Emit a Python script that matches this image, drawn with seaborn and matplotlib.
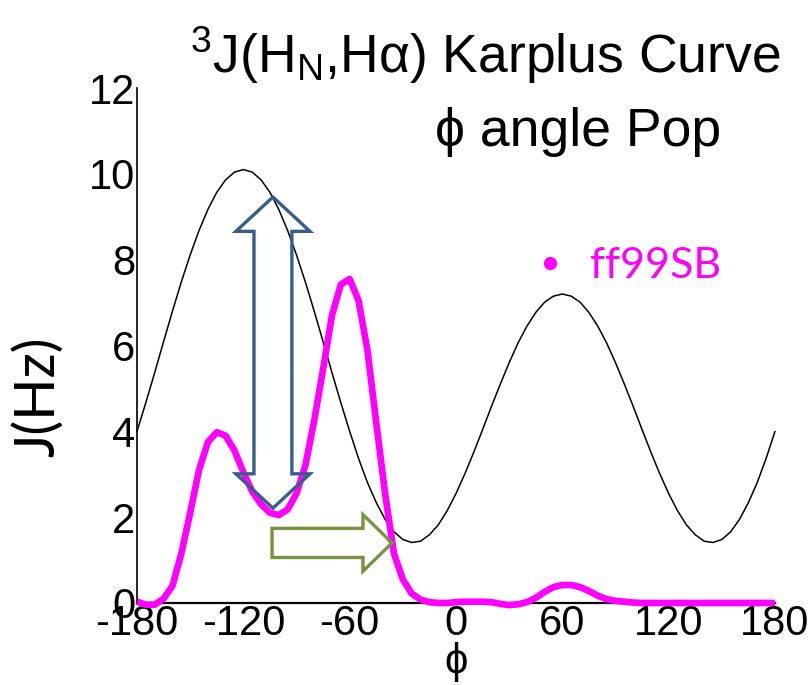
import matplotlib
matplotlib.use("Agg")
import matplotlib.pyplot as plt
import seaborn as sns
import pandas as pd
from matplotlib.patches import Polygon
from matplotlib.lines import Line2D

# ---------------- data ----------------
phi = list(range(-180, 181, 5))

karplus_j = [4.00, 4.67, 5.37, 6.09, 6.80, 7.48, 8.11, 8.68, 9.17, 9.57,
             9.86, 10.04, 10.10, 10.04, 9.86, 9.57, 9.17, 8.68, 8.11, 7.48,
             6.80, 6.09, 5.37, 4.67, 4.00, 3.37, 2.81, 2.34, 1.95, 1.66,
             1.48, 1.41, 1.44, 1.59, 1.82, 2.15, 2.55, 3.01, 3.51, 4.04,
             4.58, 5.10, 5.60, 6.06, 6.45, 6.77, 7.01, 7.15, 7.20, 7.15,
             7.01, 6.77, 6.45, 6.06, 5.60, 5.10, 4.58, 4.04, 3.51, 3.01,
             2.55, 2.15, 1.82, 1.59, 1.44, 1.41, 1.48, 1.66, 1.95, 2.34,
             2.81, 3.37, 4.00]

pop_ff99sb = [0.03, -0.04, -0.04, 0.10, 0.40, 1.15, 2.10, 3.10, 3.75, 3.98,
              3.90, 3.55, 3.05, 2.60, 2.30, 2.10, 2.05, 2.18, 2.55, 3.20,
              4.25, 5.45, 6.70, 7.42, 7.55, 7.05, 5.90, 4.20, 2.55, 1.15,
              0.55, 0.22, 0.08, 0.02, 0.00, 0.00, 0.02, 0.03, 0.03, 0.03,
              0.02, -0.02, -0.05, -0.03, 0.02, 0.12, 0.26, 0.37, 0.42, 0.42,
              0.37, 0.28, 0.17, 0.09, 0.05, 0.03, 0.01, 0.00, 0.00, 0.00,
              0.00, 0.00, 0.00, 0.00, 0.00, 0.00, 0.00, 0.00, 0.00, 0.00,
              0.00, 0.00, 0.00]

x_ticks = [-180, -120, -60, 0, 60, 120, 180]
y_ticks = [0, 2, 4, 6, 8, 10, 12]
series_label = "ff99SB"

# annotation arrows (data coordinates)
BLUE_X, BLUE_TOP, BLUE_BOT = -103.3, 9.46, 2.21
BLUE_SHAFT_W, BLUE_HEAD_W, BLUE_HEAD_L = 21.4, 41.8, 0.8
GREEN_X0, GREEN_BASE, GREEN_TIP, GREEN_Y = -103.8, -52.5, -36.1, 1.40
GREEN_SHAFT_H, GREEN_HEAD_H = 0.34, 0.66

# ---------------- style ----------------
sns.set_style("white")
plt.rcParams["font.family"] = ["Liberation Sans", "DejaVu Sans"]
plt.rcParams["axes.unicode_minus"] = False
plt.rcParams["text.color"] = "black"
plt.rcParams["axes.labelcolor"] = "black"
plt.rcParams["xtick.color"] = "black"
plt.rcParams["ytick.color"] = "black"
plt.rcParams["mathtext.fontset"] = "custom"
plt.rcParams["mathtext.rm"] = "Liberation Sans"
plt.rcParams["mathtext.it"] = "Liberation Sans:italic"
plt.rcParams["mathtext.bf"] = "Liberation Sans:bold"

W, H = 810, 685
fig = plt.figure(figsize=(W / 100, H / 100), dpi=100)
ax = fig.add_axes([137 / W, 1 - 603 / H, (775 - 137) / W, (603 - 88) / H])

df = pd.DataFrame({"phi": phi, "karplus": karplus_j, "pop": pop_ff99sb})

sns.lineplot(data=df, x="phi", y="karplus", ax=ax, color="black",
             linewidth=1.1, zorder=2)
sns.lineplot(data=df, x="phi", y="pop", ax=ax, color="#ff00ff",
             linewidth=4.8, zorder=3, solid_joinstyle="round",
             solid_capstyle="butt")
for ln in ax.lines:
    ln.set_clip_on(False)

ax.set_xlim(-180, 180)
ax.set_ylim(0, 12)
ax.set_xticks(x_ticks)
ax.set_yticks(y_ticks)
ax.tick_params(length=0, labelsize=30, pad=1, colors="black")

for s in ["top", "right"]:
    ax.spines[s].set_visible(False)
ax.spines["left"].set_color("black")
ax.spines["left"].set_linewidth(1.2)
ax.spines["bottom"].set_color("black")
ax.spines["bottom"].set_linewidth(1.6)

ax.set_xlabel("\u03d5", fontsize=30, color="black")
ax.xaxis.set_label_coords(0.5, -0.075)
ax.set_ylabel("J(Hz)", fontsize=40, family=["Lato", "DejaVu Sans"],
              va="center", color="black")
ax.yaxis.set_label_coords(-0.155, 0.40)

# blue double-headed outline arrow
hw, sw, hl = BLUE_HEAD_W / 2, BLUE_SHAFT_W / 2, BLUE_HEAD_L
blue_pts = [
    (BLUE_X, BLUE_TOP),
    (BLUE_X + hw, BLUE_TOP - hl), (BLUE_X + sw, BLUE_TOP - hl),
    (BLUE_X + sw, BLUE_BOT + hl), (BLUE_X + hw, BLUE_BOT + hl),
    (BLUE_X, BLUE_BOT),
    (BLUE_X - hw, BLUE_BOT + hl), (BLUE_X - sw, BLUE_BOT + hl),
    (BLUE_X - sw, BLUE_TOP - hl), (BLUE_X - hw, BLUE_TOP - hl),
]
ax.add_patch(Polygon(blue_pts, closed=True, fill=False, edgecolor="#385D8A",
                     linewidth=2.4, joinstyle="miter", zorder=4))

# green right arrow
green_pts = [
    (GREEN_X0, GREEN_Y - GREEN_SHAFT_H), (GREEN_BASE, GREEN_Y - GREEN_SHAFT_H),
    (GREEN_BASE, GREEN_Y - GREEN_HEAD_H), (GREEN_TIP, GREEN_Y),
    (GREEN_BASE, GREEN_Y + GREEN_HEAD_H), (GREEN_BASE, GREEN_Y + GREEN_SHAFT_H),
    (GREEN_X0, GREEN_Y + GREEN_SHAFT_H),
]
ax.add_patch(Polygon(green_pts, closed=True, fill=False, edgecolor="#77933C",
                     linewidth=2.4, joinstyle="miter", zorder=4))

# legend
handle = Line2D([], [], marker="o", linestyle="none", color="#ff00ff",
                markersize=8.5)
ax.legend([handle], [series_label], loc="center left",
          bbox_to_anchor=(528.5 / W, 1 - 266 / H), bbox_transform=fig.transFigure,
          frameon=False, borderpad=0, borderaxespad=0, handlelength=1.0,
          handletextpad=0.43, labelcolor="#ff00ff",
          prop={"family": ["Lato", "DejaVu Sans"], "size": 31})

# title (two lines)
fig.text(485 / W, 1 - 73 / H,
         "$^{3}$J(H$_{\\mathrm{N}}$,H\u03b1) Karplus Curve",
         ha="center", va="baseline", fontsize=38.5, color="black")
fig.text(578 / W, 1 - 146 / H, "\u03d5 angle Pop",
         ha="center", va="baseline", fontsize=38.5, color="black")

fig.savefig("out.png", dpi=100)
